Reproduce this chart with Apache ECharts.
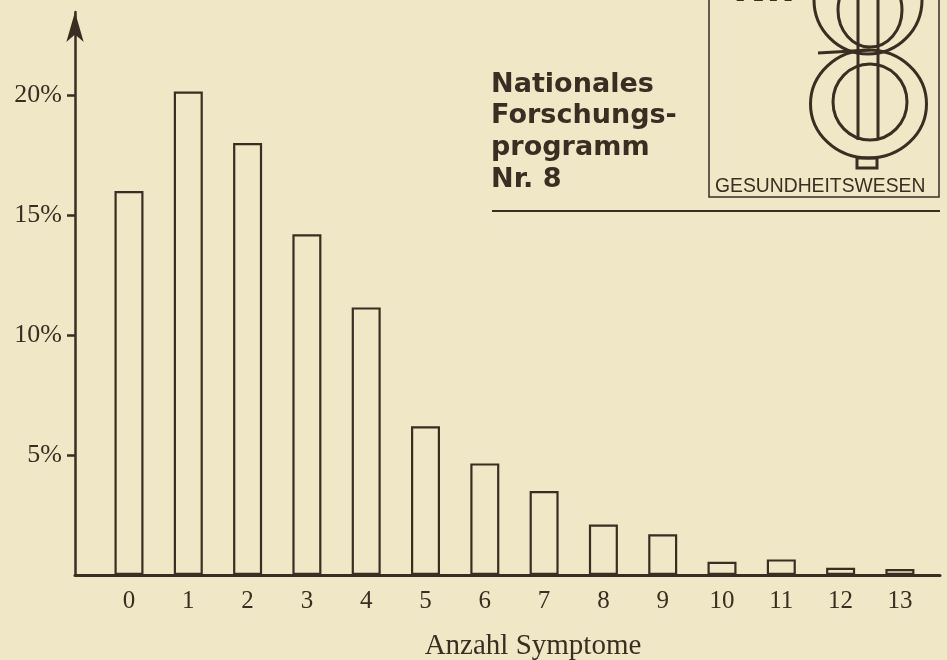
<!DOCTYPE html>
<html>
<head>
<meta charset="utf-8">
<title>Anzahl Symptome</title>
<script src="https://cdn.jsdelivr.net/npm/echarts@6/dist/echarts.min.js"></script>
<style>
  html, body { margin: 0; padding: 0; background: #efe7c5; }
  #chart { width: 947px; height: 660px; }
</style>
</head>
<body>
<div id="chart"></div>
<script>
// Anzahl Symptome -> Anteil in %
var symptomCounts = [0, 1, 2, 3, 4, 5, 6, 7, 8, 9, 10, 11, 12, 13];
var shares = [16.0, 20.15, 18.0, 14.2, 11.15, 6.2, 4.65, 3.5, 2.1, 1.7, 0.55, 0.65, 0.3, 0.25];
var yTicks = [5, 10, 15, 20];
var axisTitle = 'Anzahl Symptome';
var titleLines = ['Nationales', 'Forschungs-', 'programm', 'Nr. 8'];
var logoLabel = 'GESUNDHEITSWESEN';

var ink = '#3a2e22';
var paper = '#efe7c5';
var serif = '"Liberation Serif", "Times New Roman", serif';

var chartDom = document.getElementById('chart');
var myChart = echarts.init(chartDom, null, { renderer: 'canvas' });

var barData = symptomCounts.map(function (c, i) {
    return [c, shares[i]];
});

// title block + logo on the right
var deco = [];
titleLines.forEach(function (line, i) {
    deco.push({
        type: 'text',
        x: 491,
        scaleX: 1.04,
        style: {
            x: 0, y: 85 + i * 31.7,
            text: line,
            font: 'bold 26px "DejaVu Sans", sans-serif',
            fill: ink,
            textAlign: 'left',
            textVerticalAlign: 'middle'
        }
    });
});
deco.push({
    type: 'line',
    shape: { x1: 492, y1: 211, x2: 940, y2: 211 },
    style: { stroke: ink, lineWidth: 2 }
});
deco.push({
    type: 'rect',
    shape: { x: 709, y: -5, width: 230, height: 202 },
    style: { fill: 'none', stroke: ink, lineWidth: 1.5 }
});
deco.push({
    type: 'text',
    style: {
        x: 733, y: 11,
        text: 'Nr.',
        font: 'bold 40px "DejaVu Sans", sans-serif',
        fill: ink,
        textAlign: 'left',
        textVerticalAlign: 'bottom'
    }
});
deco.push({
    type: 'text',
    scaleX: 0.92,
    x: 715,
    style: {
        x: 0, y: 186,
        text: logoLabel,
        font: '21px "Liberation Sans", sans-serif',
        fill: ink,
        textAlign: 'left',
        textVerticalAlign: 'middle'
    }
});
[
    { cx: 868, cy: 0, rx: 54, ry: 54 },
    { cx: 870, cy: 10, rx: 32, ry: 37 },
    { cx: 868.5, cy: 104, rx: 58, ry: 54 },
    { cx: 870, cy: 102, rx: 37, ry: 38 }
].forEach(function (e) {
    deco.push({
        type: 'ellipse',
        shape: e,
        style: { fill: 'none', stroke: ink, lineWidth: 3 }
    });
});
deco.push({ type: 'line', shape: { x1: 858, y1: 0, x2: 858, y2: 140 }, style: { stroke: ink, lineWidth: 3 } });
deco.push({ type: 'line', shape: { x1: 878, y1: 0, x2: 878, y2: 140 }, style: { stroke: ink, lineWidth: 3 } });
deco.push({ type: 'line', shape: { x1: 818, y1: 53, x2: 870, y2: 50 }, style: { stroke: ink, lineWidth: 3 } });
deco.push({
    type: 'rect',
    shape: { x: 857, y: 158, width: 20, height: 10 },
    style: { fill: 'none', stroke: ink, lineWidth: 3 }
});
deco.push({
    type: 'text',
    style: {
        x: 533, y: 646,
        text: axisTitle,
        font: '29px ' + serif,
        fill: ink,
        textAlign: 'center',
        textVerticalAlign: 'middle'
    }
});

var option = {
    backgroundColor: paper,
    animation: false,
    grid: {
        left: 75,
        right: 7,
        top: 12,
        bottom: 85
    },
    xAxis: {
        type: 'value',
        min: -0.9106,
        max: 13.676,
        axisLine: {
            show: true,
            onZero: false,
            lineStyle: { color: ink, width: 3 }
        },
        axisTick: { show: false },
        splitLine: { show: false },
        axisLabel: {
            customValues: symptomCounts,
            color: ink,
            fontFamily: serif,
            fontSize: 25,
            margin: 14
        }
    },
    yAxis: {
        type: 'value',
        min: 0,
        max: 23.46,
        axisLine: {
            show: true,
            onZero: false,
            symbol: ['none', 'arrow'],
            symbolSize: [13, 30],
            lineStyle: { color: ink, width: 2.5 }
        },
        axisTick: {
            show: true,
            customValues: yTicks,
            length: 8,
            lineStyle: { color: ink, width: 2.5 }
        },
        splitLine: { show: false },
        axisLabel: {
            customValues: yTicks,
            formatter: '{value}%',
            color: ink,
            fontFamily: serif,
            fontSize: 26,
            margin: 13
        }
    },
    series: [
        {
            type: 'bar',
            data: barData,
            barWidth: 29,
            itemStyle: {
                color: 'rgba(0,0,0,0)',
                borderColor: ink,
                borderWidth: 2.2
            },
            emphasis: { disabled: true }
        }
    ],
    graphic: deco
};

option && myChart.setOption(option);
</script>
</body>
</html>
